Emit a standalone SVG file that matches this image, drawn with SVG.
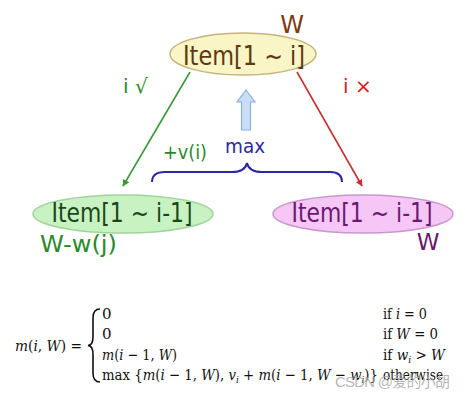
<svg xmlns="http://www.w3.org/2000/svg" width="465" height="400" viewBox="0 0 465 400">
<defs>
<marker id="ag" viewBox="0 0 10 10" refX="9" refY="5" markerWidth="7" markerHeight="7" orient="auto" markerUnits="userSpaceOnUse"><path d="M0,0 L10,5 L0,10 z" fill="#3a9a3a"/></marker>
<marker id="ar" viewBox="0 0 10 10" refX="9" refY="5" markerWidth="7" markerHeight="7" orient="auto" markerUnits="userSpaceOnUse"><path d="M0,0 L10,5 L0,10 z" fill="#c83030"/></marker>
</defs>
<style>
.hand{font-family:"DejaVu Sans","Liberation Sans",sans-serif;}
.item{font-size:27px;text-anchor:middle;}
.lbl{font-size:20px;}
.math{font-family:"DejaVu Serif","Liberation Serif",serif;font-size:15px;fill:#111;}
.it{font-style:italic;}
.sub{font-size:10px;font-style:italic;}
</style>
<rect width="465" height="400" fill="#ffffff"/>
<g id="connectors">
<line x1="190" y1="72" x2="123" y2="186" stroke="#3a9a3a" stroke-width="1.6" marker-end="url(#ag)"/>
<line x1="297" y1="72" x2="362" y2="186" stroke="#c83030" stroke-width="1.6" marker-end="url(#ar)"/>
<text class="hand lbl" x="123" y="93" fill="#2a8a2a">i √</text>
<text class="hand lbl" x="343" y="93" fill="#d82020">i ×</text>
<polygon points="246,90 255,102 250.5,102 250.5,130 241.5,130 241.5,102 237,102" fill="#c9ddf6" stroke="#8fb0e0" stroke-width="1.2"/>
<path d="M152,182 Q152,172 165,172 L232,172 Q245,172 247,163 Q249,172 262,172 L330,172 Q342,172 342,182" fill="none" stroke="#2828a8" stroke-width="2"/>
<text class="hand" x="163" y="159" font-size="19" fill="#2a8a2a" textLength="44" lengthAdjust="spacingAndGlyphs">+v(i)</text>
<text class="hand" x="225" y="153" font-size="20" fill="#2828a8" textLength="40" lengthAdjust="spacingAndGlyphs">max</text>
</g>
<g id="top">
<ellipse cx="243" cy="54" rx="73" ry="21" fill="#f9f5c6" stroke="#c4b47c" stroke-width="1.5"/>
<text class="hand item" x="244" y="65" fill="#5e3810" textLength="122" lengthAdjust="spacingAndGlyphs">Item[1 ~ i]</text>
<text class="hand" x="292" y="33" font-size="24" fill="#7a3c12" text-anchor="middle">W</text>
</g>
<g id="left">
<ellipse cx="123" cy="214" rx="90" ry="19" fill="#c8f2c2" stroke="#9fd49c" stroke-width="1.5"/>
<text class="hand item" x="122" y="222" font-size="26" fill="#184818" textLength="141" lengthAdjust="spacingAndGlyphs">Item[1 ~ i-1]</text>
<text class="hand" x="40" y="252" font-size="23" fill="#2a8a2a" textLength="77" lengthAdjust="spacingAndGlyphs">W-w(j)</text>
</g>
<g id="right">
<ellipse cx="363" cy="214" rx="90" ry="19" fill="#f6c6f6" stroke="#c898cc" stroke-width="1.5"/>
<text class="hand item" x="362" y="222" font-size="26" fill="#6a1870" textLength="141" lengthAdjust="spacingAndGlyphs">Item[1 ~ i-1]</text>
<text class="hand" x="428" y="250" font-size="23" fill="#6a1870" text-anchor="middle">W</text>
</g>
<g id="formula">
<text class="math" x="15" y="351" textLength="67" lengthAdjust="spacingAndGlyphs"><tspan class="it">m</tspan>(<tspan class="it">i</tspan>, <tspan class="it">W</tspan>) =</text>
<path d="M100,309 Q93,309 93,318 L93,337 Q93,345 88,345.5 Q93,346 93,354 L93,373 Q93,382 100,382" fill="none" stroke="#111" stroke-width="1.6"/>
<text class="math" x="102" y="319">0</text>
<text class="math" x="102" y="339">0</text>
<text class="math" x="102" y="360" textLength="75" lengthAdjust="spacingAndGlyphs"><tspan class="it">m</tspan>(<tspan class="it">i</tspan> − 1, <tspan class="it">W</tspan>)</text>
<text class="math" x="102" y="380" textLength="276" lengthAdjust="spacingAndGlyphs">max {<tspan class="it">m</tspan>(<tspan class="it">i</tspan> − 1, <tspan class="it">W</tspan>), <tspan class="it">v</tspan><tspan class="sub" dy="3">i</tspan><tspan dy="-3"> + </tspan><tspan class="it">m</tspan>(<tspan class="it">i</tspan> − 1, <tspan class="it">W</tspan> − <tspan class="it">w</tspan><tspan class="sub" dy="3">i</tspan><tspan dy="-3">)}</tspan></text>
<text class="math" x="383" y="319" textLength="44" lengthAdjust="spacingAndGlyphs">if <tspan class="it">i</tspan> = 0</text>
<text class="math" x="383" y="339" textLength="55" lengthAdjust="spacingAndGlyphs">if <tspan class="it">W</tspan> = 0</text>
<text class="math" x="383" y="360" textLength="62" lengthAdjust="spacingAndGlyphs">if <tspan class="it">w</tspan><tspan class="sub" dy="3">i</tspan><tspan dy="-3"> &gt; </tspan><tspan class="it">W</tspan></text>
<text class="math" x="383" y="380" textLength="60" lengthAdjust="spacingAndGlyphs">otherwise</text>
</g>
<text x="335" y="387" font-family="'Liberation Sans','Noto Sans CJK SC',sans-serif" font-size="15" fill="#aaaaaa" fill-opacity="0.85" textLength="115">CSDN @爱的小胡</text>
</svg>
